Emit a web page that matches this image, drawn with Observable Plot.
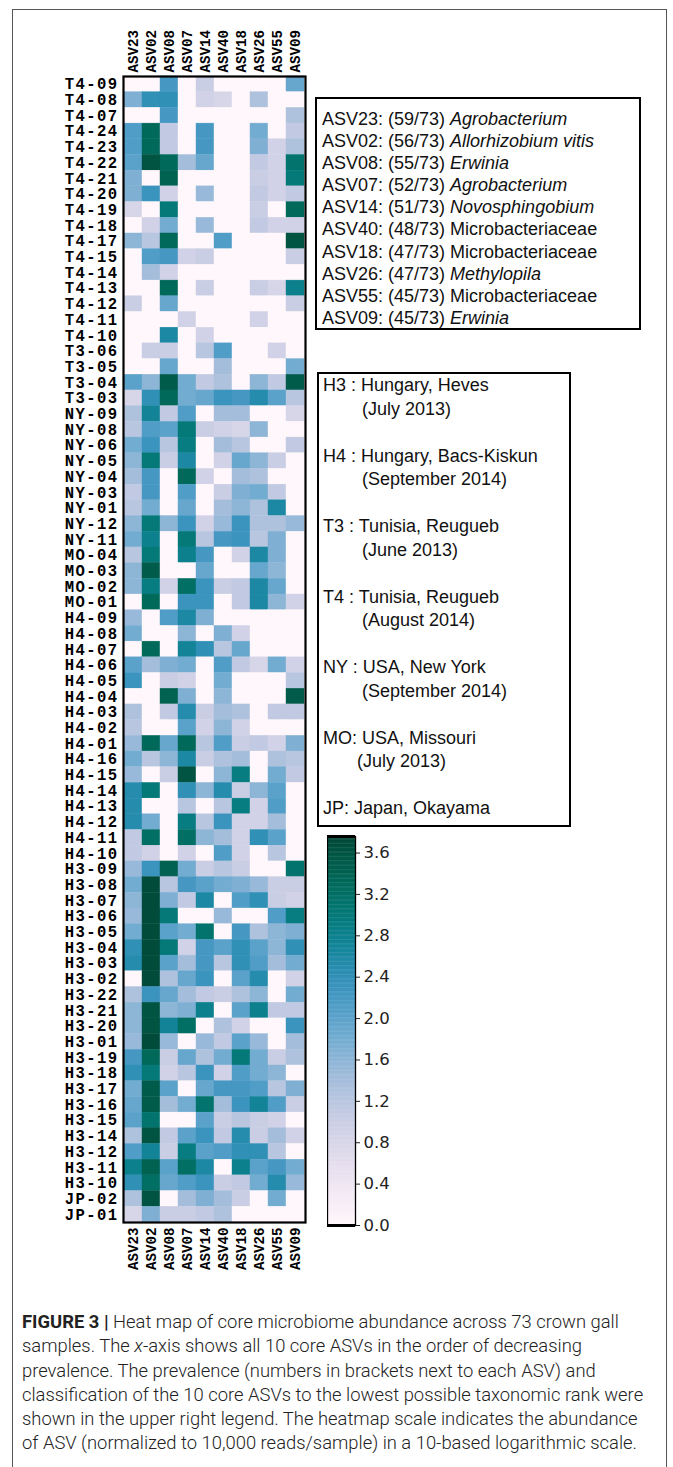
<!DOCTYPE html>
<html>
<head>
<meta charset="utf-8">
<script src="https://cdn.jsdelivr.net/npm/d3@7"></script>
<script src="https://cdn.jsdelivr.net/npm/@observablehq/plot@0.6"></script>
<style>
  html, body { margin: 0; padding: 0; background: #fff; }
  #page { position: relative; width: 673px; height: 1467px; overflow: hidden; background: #fff; }
  #figframe { position: absolute; left: 12px; top: 9px; width: 655px; height: 1500px; border: 1.5px solid #555; box-sizing: border-box; }
  .abs { position: absolute; }
  .box { position: absolute; border: 2px solid #000; box-sizing: border-box; font-family: "Liberation Sans", Arial, sans-serif; font-size: 18px; color: #111; background: #fff; }
  #asvbox { left: 315px; top: 97px; width: 326px; height: 233px; padding: 9px 0 0 5px; line-height: 22.1px; }
  #locbox { left: 317px; top: 372px; width: 254px; height: 455px; padding: 0 0 0 4px; line-height: 23.5px; }
  .line { white-space: nowrap; }
  .ind { padding-left: 39px; }
  .ind2 { padding-left: 34px; }
  #caption { position: absolute; left: 22px; top: 1310px; font-family: Roboto, "Liberation Sans", sans-serif; font-weight: 300; font-size: 18.4px; line-height: 24.3px; color: #222; }
  #caption .line { white-space: nowrap; }
  #caption b { font-weight: 700; }
</style>
</head>
<body>
<div id="page">
  <div id="figframe"></div>
  <div id="heat" class="abs" style="left:0;top:0"></div>
  <div id="asvbox" class="box"></div>
  <div id="locbox" class="box"></div>
  <div id="cbar" class="abs" style="left:327px;top:824px"></div>
  <div id="caption"></div>
</div>
<script>
// ---------- data ----------
const asvs = ["ASV23","ASV02","ASV08","ASV07","ASV14","ASV40","ASV18","ASV26","ASV55","ASV09"];
const prevalence = [59,56,55,52,51,48,47,47,45,45];
const taxa = ["Agrobacterium","Allorhizobium vitis","Erwinia","Agrobacterium","Novosphingobium","Microbacteriaceae","Microbacteriaceae","Methylopila","Microbacteriaceae","Erwinia"];
const taxonItalic = [true,true,true,true,true,false,false,true,false,true];

const t4Samples = ["T4-09","T4-08","T4-07","T4-24","T4-23","T4-22","T4-21","T4-20","T4-19","T4-18","T4-17","T4-15","T4-14","T4-13","T4-12","T4-11","T4-10"];
const t4Values = [
  [0,0,2.2,0,1.0,0,0,0,0,1.9],
  [1.7,2.4,2.4,0,0.9,0.8,0,1.3,0,0],
  [0,0,2.2,0,0,0,0,0,0,1.3],
  [2.1,3.3,1.1,0,2.2,0,0,1.8,0,1.1],
  [2.1,3.3,1.1,0,2.2,0,0,1.7,0.9,1.3],
  [2.0,3.6,3.3,1.4,1.9,0,0,1.1,0.9,3.1],
  [1.7,0,3.4,0,0,0,0,1.0,0.9,3.0],
  [1.7,2.3,0.9,0,1.5,0,0,1.1,0.9,1.1],
  [0.8,0,3.0,0,0,0,0,1.0,0,3.3],
  [0,0.9,1.8,0,1.5,0,0,1.1,0.9,0.9],
  [1.6,1.2,3.3,0,0,2.1,0,0,0,3.6],
  [0,2.1,2.2,0.9,1.0,0,0,0,0,1.0],
  [0,1.4,0.9,0,0,0,0,0,0,0],
  [0,0,3.3,0,1.0,0,0,1.0,0.8,2.8],
  [1.0,0,1.9,0,0,0,0,0,0,1.0],
  [0,0,0,0.9,0,0,0,0.9,0,0],
  [0,0,2.6,0,0.9,0,0,0,0,0]
];
const t3Samples = ["T3-06","T3-05","T3-04","T3-03"];
const t3Values = [
  [0,1.0,1.0,0,1.2,2.1,0,0,0.9,0],
  [0,0,1.9,0,0,1.4,0,0,0,1.8],
  [2.0,1.6,3.5,1.8,1.1,1.3,0,1.6,1.1,3.5],
  [0.8,2.4,3.3,1.8,1.9,2.3,2.2,2.5,2.0,1.2]
];
const nySamples = ["NY-09","NY-08","NY-06","NY-05","NY-04","NY-03","NY-01","NY-12","NY-11"];
const nyValues = [
  [1.3,2.7,1.1,2.1,0,1.4,1.4,0,0,0.8],
  [1.2,2.1,2.0,3.0,1.0,0.9,0.8,1.6,0,0],
  [1.8,2.3,1.2,2.9,0,1.4,1.2,0,0,1.1],
  [1.6,3.0,1.0,2.6,0,0.9,1.9,1.6,1.0,0],
  [1.4,2.2,0,3.3,0.9,0,1.4,1.3,0,0],
  [1.1,2.2,0,2.1,0,1.0,1.7,1.8,1.1,0],
  [1.2,1.8,0,1.9,0,1.4,1.6,1.3,2.6,0],
  [1.6,3.0,1.6,2.3,0.9,1.5,2.3,1.3,1.3,1.5],
  [1.8,2.8,0,3.0,1.2,2.2,2.3,1.2,1.7,0]
];
const moSamples = ["MO-04","MO-03","MO-02","MO-01"];
const moValues = [
  [1.2,3.0,0,2.8,2.2,0,0.9,2.6,1.7,0],
  [1.6,3.5,0,0,1.9,0,0,1.9,1.6,0],
  [1.6,2.9,0.9,3.2,2.3,1.0,1.1,2.6,1.9,0],
  [0,3.3,0,2.3,2.3,0,1.1,2.6,1.6,0.9]
];
const h4Samples = ["H4-09","H4-08","H4-07","H4-06","H4-05","H4-04","H4-03","H4-02","H4-01","H4-16","H4-15","H4-14","H4-13","H4-12","H4-11","H4-10"];
const h4Values = [
  [1.5,0,2.1,2.6,1.7,0,0,0,0,0],
  [1.8,0,0,1.6,0,1.7,0.9,0,0,0],
  [0,3.3,0,2.7,2.4,1.2,1.9,0,0,0],
  [2.0,1.4,1.7,1.8,0,2.1,1.1,0.8,1.8,0.9],
  [2.3,0,1.0,0.9,0,1.8,0,0,0,1.2],
  [0,0,3.4,1.7,0,1.6,0,0,0,3.5],
  [1.3,0,1.1,2.5,1.0,1.4,1.3,0,1.1,1.1],
  [1.2,0,0,2.0,0.9,1.6,0.9,0,0,0],
  [1.5,3.3,1.9,3.3,1.2,2.1,1.0,1.1,0.9,1.7],
  [1.8,1.2,1.6,2.6,1.0,1.3,1.4,0,1.3,1.2],
  [1.5,0,1.0,3.6,0,1.6,2.9,0,1.8,1.1],
  [2.5,3.0,0,2.4,1.6,2.5,1.0,1.6,2.0,0],
  [2.5,0,0,1.2,0,1.2,2.9,0.9,2.1,0],
  [2.5,1.8,0,2.9,1.2,2.3,0.9,0.9,1.4,0],
  [1.1,3.2,0,3.2,1.6,1.4,0.9,2.4,2.0,0],
  [1.1,0.9,0,0.9,0,2.1,0.9,0,1.2,0]
];
const h3Samples = ["H3-09","H3-08","H3-07","H3-06","H3-05","H3-04","H3-03","H3-02","H3-22","H3-21","H3-20","H3-01","H3-19","H3-18","H3-17","H3-16","H3-15","H3-14","H3-12","H3-11","H3-10"];
const h3Values = [
  [1.5,2.3,3.4,1.8,1.0,1.2,1.0,0,0,3.1],
  [1.8,3.7,1.2,2.2,2.0,1.8,1.7,1.5,1.0,1.0],
  [1.6,3.7,1.7,1.1,2.6,0,2.1,2.4,1.0,0.9],
  [1.5,3.7,3.0,0,0,1.5,0,0,2.1,2.9],
  [1.8,3.7,2.0,1.8,3.1,0,2.2,1.3,1.6,1.7],
  [2.4,3.7,3.0,0.9,2.2,2.0,2.4,2.0,1.6,2.4],
  [2.5,3.7,2.0,1.4,2.2,1.2,2.4,2.1,1.4,1.8],
  [0,3.7,1.3,1.9,2.3,0,2.0,2.5,0,0.9],
  [1.3,2.3,1.9,1.4,1.1,1.0,1.3,1.6,0,1.8],
  [1.6,3.6,1.6,1.7,2.8,0,2.0,2.8,1.1,1.1],
  [1.6,3.6,2.7,3.2,0,1.3,0.9,0,0,2.3],
  [1.5,3.7,1.5,0,1.5,1.1,2.0,1.5,0,1.4],
  [2.2,3.3,1.0,1.9,1.3,1.8,3.0,1.8,1.0,1.3],
  [2.4,3.0,0.9,1.2,2.3,0.9,2.1,1.8,1.6,0],
  [1.8,3.5,2.0,0,1.9,2.2,2.2,2.1,1.2,1.7],
  [1.9,3.5,1.4,1.8,3.1,1.4,2.3,2.7,2.1,1.0],
  [2.0,3.1,0,0,2.0,1.0,1.2,1.0,0.9,0],
  [1.3,3.6,1.1,2.0,2.3,1.1,2.5,1.0,1.4,0.9],
  [2.1,2.7,1.0,2.9,2.0,2.1,2.4,2.4,1.2,0],
  [2.8,3.4,2.0,3.2,2.6,0,2.8,2.0,2.2,1.8],
  [2.4,3.2,1.9,2.1,2.3,1.0,1.1,1.8,2.5,1.5]
];
const jpSamples = ["JP-02","JP-01"];
const jpValues = [
  [1.3,3.6,0,1.4,1.7,1.4,1.0,0,1.8,0],
  [0.8,1.7,1.0,1.0,1.1,1.3,0,0,0,0]
];

const locations = [
  ["H3 : Hungary, Heves", "(July 2013)"],
  ["H4 : Hungary, Bacs-Kiskun", "(September 2014)"],
  ["T3 : Tunisia, Reugueb", "(June 2013)"],
  ["T4 : Tunisia, Reugueb", "(August 2014)"],
  ["NY : USA, New York", "(September 2014)"],
  ["MO: USA, Missouri", "(July 2013)"],
  ["JP: Japan, Okayama", null]
];
const colorMax = 3.76;
const colorTicks = [0, 0.4, 0.8, 1.2, 1.6, 2.0, 2.4, 2.8, 3.2, 3.6];

// ---------- build table ----------
const groups = [
  [t4Samples, t4Values], [t3Samples, t3Values], [nySamples, nyValues], [moSamples, moValues],
  [h4Samples, h4Values], [h3Samples, h3Values], [jpSamples, jpValues]
];
const samples = groups.flatMap(g => g[0]);
const cells = [];
for (const [names, vals] of groups) {
  names.forEach((s, i) => vals[i].forEach((v, j) => cells.push({sample: s, asv: asvs[j], value: v})));
}

const colorOpts = {type: "linear", domain: [0, colorMax], scheme: "PuBuGn"};

const heat = Plot.plot({
  width: 320,
  height: 1290,
  marginLeft: 123,
  marginRight: 15,
  marginTop: 76,
  marginBottom: 68,
  style: {fontFamily: "'Liberation Mono', 'DejaVu Sans Mono', monospace", fontWeight: "bold", color: "#000", background: "transparent"},
  x: {domain: asvs, padding: 0, axis: null},
  y: {domain: samples, padding: 0, axis: null},
  color: colorOpts,
  marks: [
    Plot.cell(cells, {x: "asv", y: "sample", fill: "value", inset: 0, stroke: "value", strokeWidth: 0.4}),
    Plot.frame({stroke: "#000", strokeWidth: 2.2}),
    Plot.axisY({anchor: "left", tickSize: 0, tickPadding: 5, fontSize: 15.6, label: null}),
    Plot.axisX({anchor: "top", tickSize: 0, tickPadding: 4, tickRotate: -90, fontSize: 14.2, label: null}),
    Plot.axisX({anchor: "bottom", tickSize: 0, tickPadding: 5, tickRotate: -90, fontSize: 14.2, label: null})
  ]
});
document.getElementById("heat").appendChild(heat);
heat.querySelectorAll("g[aria-label='y-axis tick label'] text").forEach(t => t.setAttribute("letter-spacing", "1.4"));

// ---------- colorbar ----------
const slices = d3.range(0, colorMax, colorMax / 300);
const cbar = Plot.plot({
  width: 75,
  height: 413,
  marginTop: 12,
  marginBottom: 12,
  marginLeft: 0,
  marginRight: 47,
  style: {fontFamily: "'DejaVu Sans', sans-serif", color: "#222", background: "transparent"},
  x: {domain: [0, 1], axis: null},
  y: {domain: [0, colorMax]},
  color: colorOpts,
  marks: [
    Plot.rect(slices, {x1: 0, x2: 1, y1: d => d, y2: d => Math.min(colorMax, d + colorMax / 300 + 0.004), fill: d => d}),
    Plot.frame({stroke: "#000", strokeWidth: 1.3}),
    Plot.ruleY([0, colorMax], {stroke: "#000", strokeWidth: 3}),
    Plot.axisY({anchor: "right", ticks: colorTicks, tickFormat: d3.format(".1f"), tickSize: 4, tickPadding: 4, fontSize: 16.5, label: null})
  ]
});
document.getElementById("cbar").appendChild(cbar);

// ---------- ASV legend ----------
const asvBox = document.getElementById("asvbox");
asvs.forEach((a, i) => {
  const div = document.createElement("div");
  div.className = "line";
  div.textContent = `${a}: (${prevalence[i]}/73) `;
  const span = document.createElement("span");
  span.textContent = taxa[i];
  if (taxonItalic[i]) span.style.fontStyle = "italic";
  div.appendChild(span);
  asvBox.appendChild(div);
});

// ---------- location legend ----------
const locBox = document.getElementById("locbox");
locations.forEach(([main, sub], i) => {
  const d1 = document.createElement("div");
  d1.className = "line";
  d1.textContent = main;
  locBox.appendChild(d1);
  if (sub) {
    const d2 = document.createElement("div");
    d2.className = "line " + (main.startsWith("MO") ? "ind2" : "ind");
    d2.textContent = sub;
    locBox.appendChild(d2);
    const blank = document.createElement("div");
    blank.innerHTML = "&nbsp;";
    locBox.appendChild(blank);
  }
});

// ---------- caption ----------
const captionLines = [
  "<b>FIGURE 3 |</b> Heat map of core microbiome abundance across 73 crown gall",
  "samples. The <i>x</i>-axis shows all 10 core ASVs in the order of decreasing",
  "prevalence. The prevalence (numbers in brackets next to each ASV) and",
  "classification of the 10 core ASVs to the lowest possible taxonomic rank were",
  "shown in the upper right legend. The heatmap scale indicates the abundance",
  "of ASV (normalized to 10,000 reads/sample) in a 10-based logarithmic scale."
];
const cap = document.getElementById("caption");
cap.innerHTML = captionLines.map(l => `<div class="line">${l}</div>`).join("");
</script>
</body>
</html>
